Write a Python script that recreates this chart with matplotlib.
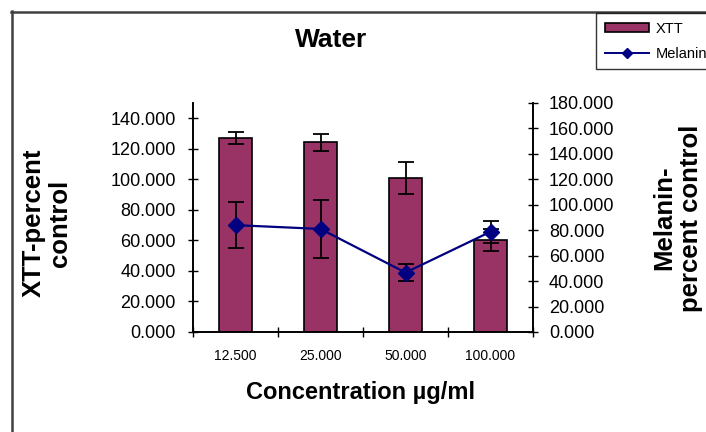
import numpy as np
import matplotlib
matplotlib.use("Agg")
import matplotlib.pyplot as plt
from matplotlib.lines import Line2D
from matplotlib.patches import Patch

plt.rcParams['font.family'] = ['Liberation Sans', 'DejaVu Sans']

# values
concentrations = ['12.500', '25.000', '50.000', '100.000']
xtt = [126.8, 124.3, 100.8, 60.0]
xtt_err = [3.9, 5.5, 10.6, 7.2]
melanin = [84.0, 81.0, 46.7, 78.8]
melanin_err = [18.0, 23.0, 6.5, 8.7]

bar_color = '#993366'
line_color = '#000080'

fig = plt.figure(figsize=(7.06, 4.32), dpi=100)
ax = fig.add_axes([193 / 706, 1 - 332 / 432, 340 / 706, 229 / 432])
ax2 = ax.twinx()

x = np.arange(len(concentrations))

# XTT bars with error bars
ax.bar(x, xtt, width=0.39, color=bar_color, edgecolor='black', linewidth=1.2, zorder=2)
ax.errorbar(x, xtt, yerr=xtt_err, fmt='none', ecolor='black', elinewidth=1.3,
            capsize=6, capthick=1.3, zorder=3)

# Melanin line on secondary axis
ax2.errorbar(x, melanin, yerr=melanin_err, fmt='none', ecolor='black', elinewidth=1.3,
             capsize=6, capthick=1.3, zorder=3)
ax2.plot(x, melanin, color=line_color, linewidth=1.6, marker='D', markersize=8,
         markerfacecolor=line_color, markeredgecolor=line_color, zorder=4)

ax.set_xlim(-0.5, len(concentrations) - 0.5)
ax.set_ylim(0, 150)
ax2.set_ylim(0, 180)

ax.set_yticks(np.arange(0, 141, 20))
ax.set_yticklabels([f'{v:.3f}' for v in np.arange(0, 141, 20)])
ax2.set_yticks(np.arange(0, 181, 20))
ax2.set_yticklabels([f'{v:.3f}' for v in np.arange(0, 181, 20)])

ax.set_xticks(np.arange(-0.5, len(concentrations), 1.0))
ax.set_xticklabels([])
ax.set_xticks(x, minor=True)
ax.set_xticklabels(concentrations, minor=True)
ax.tick_params(axis='x', which='minor', length=0, pad=12, labelsize=10)
ax.tick_params(axis='x', which='major', direction='inout', length=7, width=1)
ax.tick_params(axis='y', direction='inout', length=7, width=1, labelsize=13, pad=9)
ax2.tick_params(axis='y', direction='inout', length=7, width=1, labelsize=13, pad=8)

for a in (ax, ax2):
    for s in a.spines.values():
        s.set_linewidth(1.2)
    a.spines['top'].set_visible(False)

# texts
fig.text(331 / 706, 1 - 40 / 432, 'Water', ha='center', va='center',
         fontsize=19, fontweight='bold')
fig.text(361 / 706, 1 - 392 / 432, 'Concentration µg/ml', ha='center', va='center',
         fontsize=17, fontweight='bold')
fig.text(47 / 706, 1 - 223 / 432, 'XTT-percent\ncontrol', ha='center', va='center',
         rotation=90, fontsize=18.5, fontweight='bold', linespacing=1.15)
fig.text(678 / 706, 1 - 218 / 432, 'Melanin-\npercent control', ha='center', va='center',
         rotation=90, fontsize=18.5, fontweight='bold', linespacing=1.15)

# chart area border (left and top)
border = '#404040'
fig.add_artist(Line2D([11.5 / 706, 11.5 / 706], [0, 1 - 11 / 432], color=border,
                      linewidth=1.8, transform=fig.transFigure))
fig.add_artist(Line2D([11 / 706, 1], [1 - 11.5 / 432, 1 - 11.5 / 432], color=border,
                      linewidth=1.8, transform=fig.transFigure))

# legend (runs past the right edge, as in the reference)
handles = [Patch(facecolor=bar_color, edgecolor='black', linewidth=1.2),
           Line2D([0], [0], color=line_color, linewidth=1.4, marker='D', markersize=5)]
leg = fig.legend(handles, ['XTT', 'Melanin'], loc='upper left',
                 bbox_to_anchor=(596 / 706, 1 - 13 / 432), fontsize=10.5,
                 frameon=True, fancybox=False, handlelength=3.0, handleheight=0.6,
                 borderpad=0.6, labelspacing=0.75, handletextpad=0.5, borderaxespad=0)
leg.get_frame().set_edgecolor('black')
leg.get_frame().set_linewidth(1.0)

fig.savefig('out.png', dpi=100)
